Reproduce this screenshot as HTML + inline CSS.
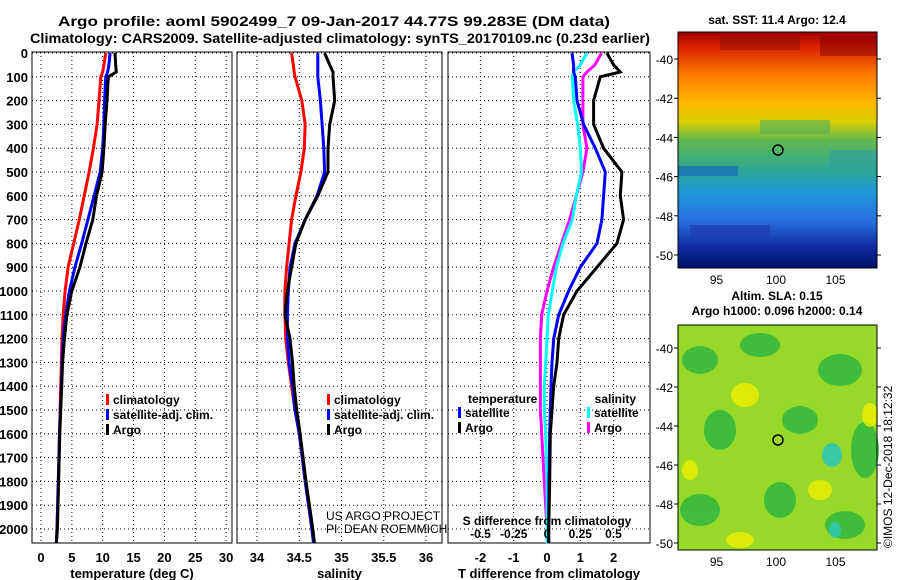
<!DOCTYPE html>
<html><head><meta charset="utf-8"><style>
body{margin:0;background:#fff}
svg{display:block;font-family:"Liberation Sans",sans-serif;font-weight:bold}
</style></head><body>
<svg id="c" width="900" height="580" viewBox="0 0 900 580">
<defs>
<linearGradient id="sst" x1="0" y1="0" x2="0" y2="1">
<stop offset="0" stop-color="#a00000"/><stop offset="0.06" stop-color="#d82000"/>
<stop offset="0.18" stop-color="#ff7a00"/><stop offset="0.3" stop-color="#ffb800"/>
<stop offset="0.38" stop-color="#d8d000"/><stop offset="0.46" stop-color="#60b850"/>
<stop offset="0.58" stop-color="#30a890"/><stop offset="0.68" stop-color="#2098d8"/>
<stop offset="0.8" stop-color="#2870e0"/><stop offset="0.9" stop-color="#1030a8"/>
<stop offset="1" stop-color="#001068"/></linearGradient>
</defs>
<g font-size="14" text-anchor="start">
<text x="58" y="26" textLength="552" lengthAdjust="spacingAndGlyphs">Argo profile: aoml 5902499_7 09-Jan-2017 44.77S 99.283E (DM data)</text>
<text x="30" y="43" textLength="620" lengthAdjust="spacingAndGlyphs">Climatology: CARS2009. Satellite-adjusted climatology: synTS_20170109.nc (0.23d earlier)</text>
</g>
<g id="p1"></g>
<g id="p2"></g>
<g id="p3"></g>
<g>
<text x="777" y="24" font-size="12" text-anchor="middle">sat. SST: 11.4 Argo: 12.4</text>
<rect x="678" y="32" width="199" height="236" fill="url(#sst)"/>
<rect x="678" y="166" width="60" height="10" fill="#1060c0" opacity="0.6"/>
<rect x="760" y="120" width="70" height="14" fill="#50b060" opacity="0.6"/>
<rect x="830" y="150" width="47" height="20" fill="#30a0a0" opacity="0.6"/>
<rect x="720" y="36" width="80" height="14" fill="#901000" opacity="0.5"/>
<rect x="820" y="36" width="57" height="20" fill="#800000" opacity="0.5"/>
<rect x="690" y="225" width="80" height="12" fill="#2038b0" opacity="0.6"/>
<circle cx="778" cy="150" r="5" fill="none" stroke="#000" stroke-width="1.5"/>
<rect x="678" y="32" width="199" height="236" fill="none" stroke="#000"/>
</g>
<g>
<text x="777" y="300" font-size="12" text-anchor="middle">Altim. SLA: 0.15</text>
<text x="777" y="315" font-size="12" text-anchor="middle">Argo h1000: 0.096 h2000: 0.14</text>
<rect x="678" y="325" width="199" height="225" fill="#98d828"/>
<g fill="#30b840" opacity="0.85">
<ellipse cx="700" cy="360" rx="18" ry="14"/><ellipse cx="760" cy="345" rx="20" ry="12"/><ellipse cx="840" cy="370" rx="22" ry="16"/>
<ellipse cx="720" cy="430" rx="16" ry="20"/><ellipse cx="800" cy="420" rx="18" ry="14"/><ellipse cx="865" cy="450" rx="14" ry="28"/>
<ellipse cx="700" cy="510" rx="20" ry="16"/><ellipse cx="780" cy="500" rx="16" ry="18"/><ellipse cx="845" cy="525" rx="20" ry="14"/>
</g>
<g fill="#30c8b0" opacity="0.9"><ellipse cx="832" cy="455" rx="10" ry="12"/><ellipse cx="835" cy="530" rx="6" ry="8"/></g>
<g fill="#f0f000" opacity="0.8"><ellipse cx="745" cy="395" rx="14" ry="12"/><ellipse cx="820" cy="490" rx="12" ry="10"/><ellipse cx="690" cy="470" rx="8" ry="10"/><ellipse cx="870" cy="415" rx="8" ry="12"/><ellipse cx="740" cy="540" rx="14" ry="8"/></g>
<circle cx="778" cy="440" r="5" fill="none" stroke="#000" stroke-width="1.5"/>
<rect x="678" y="325" width="199" height="225" fill="none" stroke="#000"/>
</g>
<text x="892" y="548" font-size="12" font-weight="normal" transform="rotate(-90 892 548)">©IMOS 12-Dec-2018 18:12:32</text>
</svg>
<script>
const NS="http://www.w3.org/2000/svg";
const depths=[0,50,80,100,200,300,400,500,600,700,800,900,1000,1100,1200,1300,1400,1500,1600,1800,2000,2060];
const tClim=[10.5,10.2,10.0,9.7,9.4,9.1,8.5,7.8,7.0,6.2,5.3,4.4,3.9,3.6,3.4,3.3,3.2,3.1,3.0,2.8,2.6,2.5];
const tSat=[11.2,11.0,10.8,10.5,10.3,10.2,10.0,9.6,8.6,7.6,6.6,5.5,4.6,4.0,3.6,3.4,3.3,3.15,3.0,2.8,2.6,2.5];
const tArgo=[12.0,12.1,12.2,10.9,10.7,10.4,10.2,9.9,9.0,8.4,7.3,6.3,5.0,4.2,3.8,3.5,3.35,3.2,3.05,2.85,2.65,2.5];
const sClim=[34.41,34.43,34.44,34.45,34.53,34.57,34.56,34.52,34.46,34.41,34.38,34.35,34.33,34.33,34.34,34.37,34.41,34.45,34.5,34.57,34.65,34.67];
const sSat=[34.72,34.72,34.72,34.72,34.75,34.77,34.79,34.80,34.71,34.57,34.45,34.39,34.37,34.36,34.36,34.38,34.42,34.45,34.5,34.57,34.65,34.67];
const sArgo=[34.80,34.86,34.90,34.90,34.92,34.86,34.84,34.84,34.72,34.57,34.46,34.41,34.36,34.33,34.39,34.42,34.44,34.47,34.51,34.58,34.66,34.68];
const dTArgo=[1.8,2.0,2.2,1.6,1.4,1.4,1.7,2.25,2.2,2.3,2.1,1.5,0.9,0.5,0.35,0.3,0.2,0.15,0.1,0.08,0.05,0.05];
const dTSat=[0.75,0.8,0.8,0.85,0.9,1.1,1.45,1.75,1.7,1.65,1.5,1.0,0.65,0.35,0.2,0.15,0.12,0.1,0.08,0.06,0.05,0.05];
const dSSat=[0.3,0.25,0.2,0.19,0.2,0.23,0.25,0.26,0.22,0.19,0.12,0.07,0.04,0.01,0,-0.01,-0.02,-0.02,-0.01,0,0,0];
const dSArgo=[0.41,0.36,0.3,0.27,0.27,0.27,0.3,0.27,0.22,0.17,0.11,0.05,0,-0.04,-0.05,-0.05,-0.05,-0.05,-0.04,-0.02,0,0];
const depthTicks=[0,100,200,300,400,500,600,700,800,900,1000,1100,1200,1300,1400,1500,1600,1700,1800,1900,2000];
const tTicks=[0,5,10,15,20,25,30];
const sTicks=[34,34.5,35,35.5,36];
const dTTicks=[-2,-1,0,1,2];
const dSTicks=[-0.5,-0.25,0,0.25,0.5];
const latTicks=[-40,-42,-44,-46,-48,-50];
const lonTicks=[95,100,105];
const Y=d=>53+d*0.238;
const xT=v=>41+v*6.17, xS=v=>257+(v-34)*84.5, xDT=v=>547+v*33.3, xDS=v=>547+v*133;
function el(p,tag,a){const e=document.createElementNS(NS,tag);for(const k in a)e.setAttribute(k,a[k]);p.appendChild(e);return e;}
function txt(p,x,y,s,anchor,size){const t=el(p,'text',{x:x,y:y,'font-size':size||13,'text-anchor':anchor||'middle'});t.textContent=s;return t;}
function frame(g,x0,x1,xt,xf,xlab){
  el(g,'rect',{x:x0,y:52,width:x1-x0,height:491,fill:'#fff',stroke:'#000'});
  depthTicks.forEach(d=>{el(g,'line',{x1:x0,x2:x1,y1:Y(d),y2:Y(d),stroke:'#000','stroke-dasharray':'1 3'});});
  xt.forEach(v=>{el(g,'line',{x1:xf(v),x2:xf(v),y1:52,y2:543,stroke:'#000','stroke-dasharray':'1 3'});});
  if(xlab){xt.forEach(v=>{txt(g,xf(v),562,String(v),'middle',13);});txt(g,(x0+x1)/2,578,xlab,'middle',13);}
}
function line(g,xs,xf,col,name){
  const p=el(g,'path',{d:xs.map((v,i)=>(i?'L':'M')+xf(v).toFixed(1)+' '+Y(depths[i]).toFixed(1)).join(''),fill:'none',stroke:col,'stroke-width':3});
  
  
}
function legend(g,x,y,items,anchorRight){
  items.forEach((it,i)=>{const yy=y+i*15;
    if(anchorRight){el(g,'rect',{x:x-3,y:yy-10,width:3,height:11,fill:it[1]});txt(g,x+4,yy,it[0],'start',12);}
    else{el(g,'rect',{x:x,y:yy-10,width:3,height:11,fill:it[1]});txt(g,x+7,yy,it[0],'start',12);}
  });
}
const p1=document.getElementById('p1'),p2=document.getElementById('p2'),p3=document.getElementById('p3');
frame(p1,32,232,tTicks,xT,'temperature (deg C)');
depthTicks.forEach(d=>txt(p1,28,Y(d)+5,String(d),'end',13));
line(p1,tClim,xT,'#ff0000','temp-climatology-line');
line(p1,tSat,xT,'#0000ff','temp-satellite-line');
line(p1,tArgo,xT,'#000','temp-argo-line');
legend(p1,106,404,[['climatology','#ff0000'],['satellite-adj. clim.','#0000ff'],['Argo','#000']]);
frame(p2,237,442,sTicks,xS,'salinity');
line(p2,sClim,xS,'#ff0000','sal-climatology-line');
line(p2,sSat,xS,'#0000ff','sal-satellite-line');
line(p2,sArgo,xS,'#000','sal-argo-line');
legend(p2,327,404,[['climatology','#ff0000'],['satellite-adj. clim.','#0000ff'],['Argo','#000']]);
const t1=txt(p2,326,520,'US ARGO PROJECT','start',12);t1.setAttribute('font-weight','normal');
const t2=txt(p2,326,533,'PI: DEAN ROEMMICH','start',12);t2.setAttribute('font-weight','normal');
frame(p3,448,650,dTTicks,xDT,'T difference from climatology');
line(p3,dSArgo,xDS,'#ff00ff','sdiff-argo-line');
line(p3,dSSat,xDS,'#00ffff','sdiff-satellite-line');
line(p3,dTSat,xDT,'#0000ff','tdiff-satellite-line');
line(p3,dTArgo,xDT,'#000','tdiff-argo-line');
txt(p3,468,403,'temperature','start',12);
legend(p3,458,417,[['satellite','#0000ff'],['Argo','#000']]);
txt(p3,636,403,'salinity','end',12);
legend(p3,590,417,[['satellite','#00ffff'],['Argo','#ff00ff']],true);
txt(p3,547,525,'S difference from climatology','middle',12);
dSTicks.forEach(v=>txt(p3,xDS(v),538,String(v),'middle',12));
function mapAxes(y0,h,lat0y,degPx){
  const g=document.getElementById('c');
  latTicks.forEach(l=>{const y=lat0y+(-40-l)*degPx; if(y<y0||y>y0+h)return;
    el(g,'line',{x1:674,x2:678,y1:y,y2:y,stroke:'#000'});
    el(g,'line',{x1:877,x2:881,y1:y,y2:y,stroke:'#000'});
    txt(g,673,y+5,String(l),'end',12).setAttribute('font-weight','normal');});
  lonTicks.forEach(l=>{const x=776+(l-100)*11.9;txt(g,x,y0+h+16,String(l),'middle',12).setAttribute('font-weight','normal');});
}
mapAxes(32,236,59,19.6);
mapAxes(325,225,348,19.5);
</script>
</body></html>
